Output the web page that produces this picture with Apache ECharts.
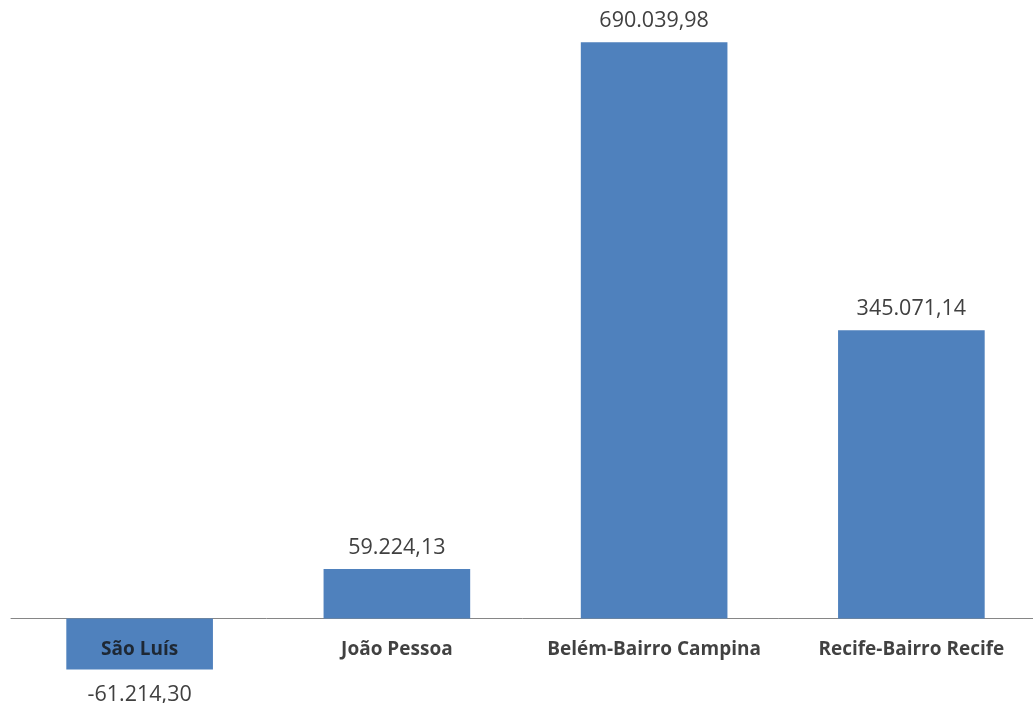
<!DOCTYPE html>
<html>
<head>
<meta charset="utf-8">
<script src="https://cdn.jsdelivr.net/npm/echarts@6/dist/echarts.min.js"></script>
<style>
  html, body { margin: 0; padding: 0; background: #fff; }
  #chart { width: 1033px; height: 703px; }
</style>
</head>
<body>
<div id="chart"></div>
<script>
// dados do gráfico
const categorias = ['São Luís', 'João Pessoa', 'Belém-Bairro Campina', 'Recife-Bairro Recife']
const valores = [-61214.30, 59224.13, 690039.98, 345071.14]

// formato pt-BR: 690.039,98
function formatar (v) {
  return v.toLocaleString('pt-BR', { minimumFractionDigits: 2, maximumFractionDigits: 2 })
}

const chart = echarts.init(document.getElementById('chart'))
chart.setOption({
  animation: false,
  grid: { left: 11, right: -7, top: 34, bottom: 1, outerBoundsMode: 'none', containLabel: false },
  xAxis: {
    type: 'category',
    data: categorias,
    axisLine: { onZero: true, lineStyle: { color: '#868686', width: 1 } },
    axisTick: { show: false },
    axisLabel: { show: false }
  },
  yAxis: {
    type: 'value',
    min: -100000,
    max: 700000,
    show: false,
    splitLine: { show: false }
  },
  series: [{
    type: 'bar',
    barWidth: '57%',
    data: valores.map(v => ({
      value: v,
      label: v < 0 ? { position: 'bottom', distance: 14 } : { position: 'top' }
    })),
    itemStyle: { color: '#4f81bd' },
    label: {
      show: true,
      distance: 10,
      fontFamily: 'Open Sans',
      fontSize: 21.5,
      color: '#404040',
      formatter: p => formatar(p.value)
    }
  }, {
    // nomes das categorias junto à linha do zero
    type: 'scatter',
    data: categorias.map(c => [c, 0]),
    symbolSize: 0,
    silent: true,
    label: {
      show: true,
      position: 'bottom',
      distance: 22,
      fontFamily: 'Open Sans',
      fontWeight: 'bold',
      fontSize: 19,
      color: '#111',
      formatter: p => p.value[0]
    }
  }]
})
</script>
</body>
</html>
